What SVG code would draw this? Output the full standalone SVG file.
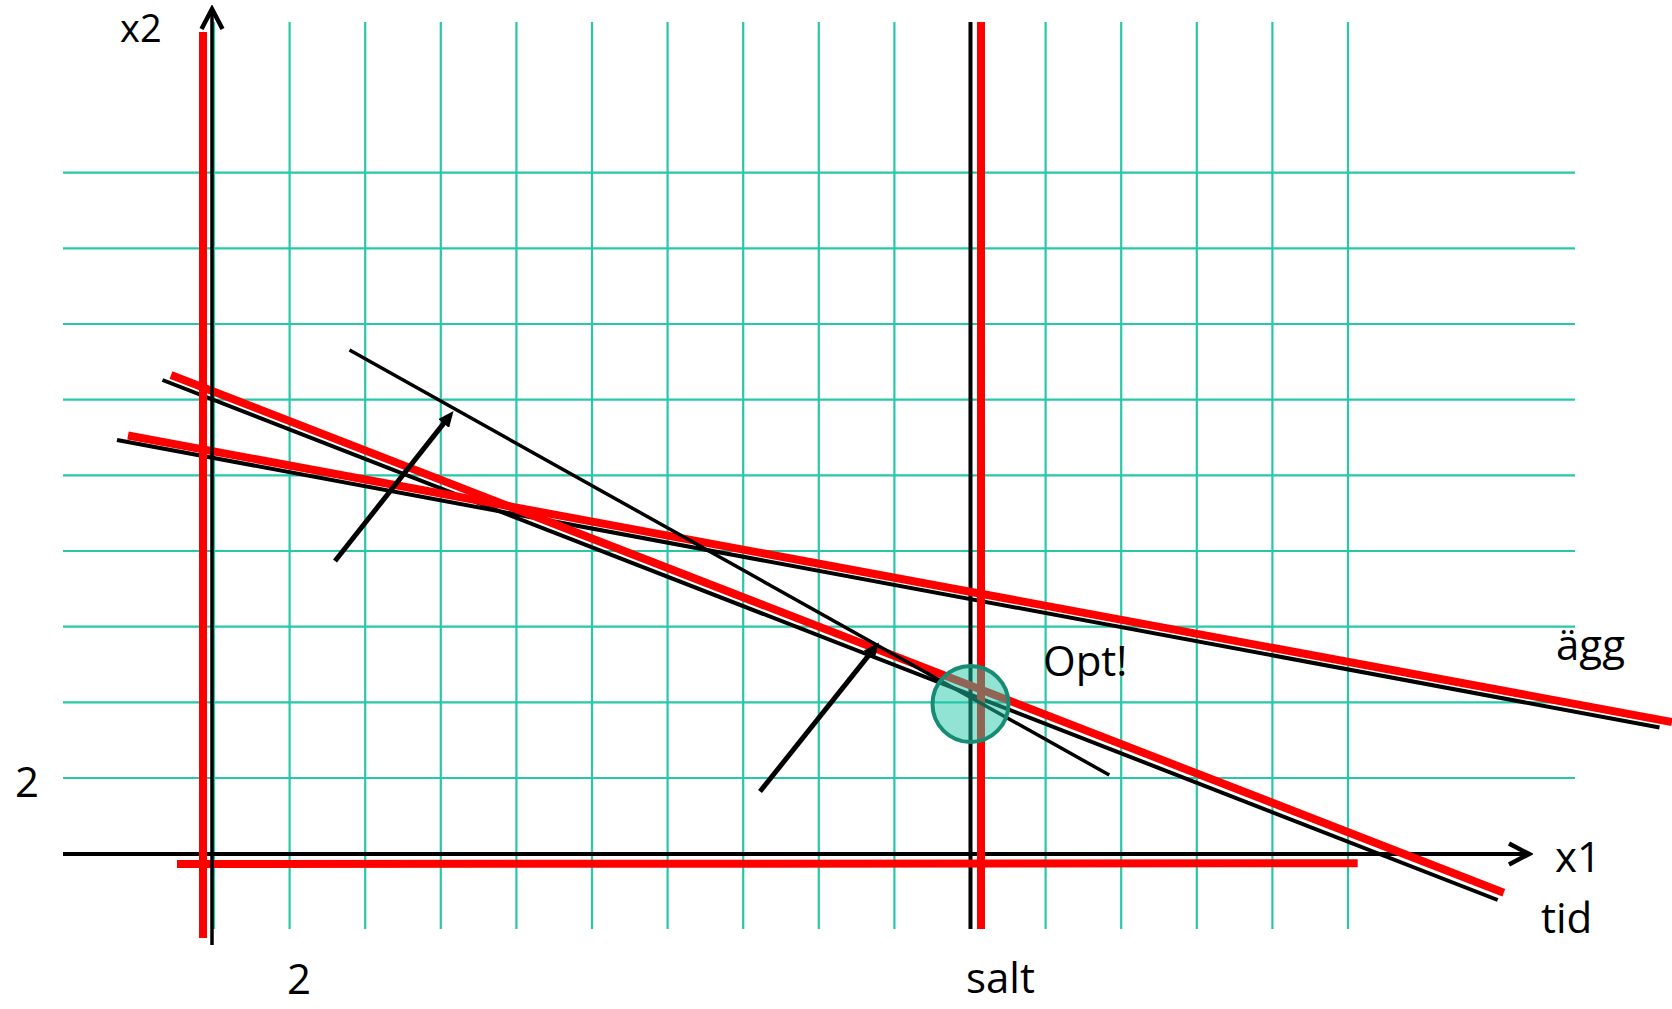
<svg xmlns="http://www.w3.org/2000/svg" width="1672" height="1009" viewBox="0 0 1672 1009">
<style>
.grid line{stroke:#27C8A8;stroke-width:2.2}
.red{stroke:#FF0000;stroke-width:8;fill:none}
.blk{stroke:#000;stroke-width:4;fill:none}
.thin{stroke:#000;stroke-width:3.5;fill:none}
.arr{stroke:#000;stroke-width:5;fill:none;marker-end:url(#head)}
.lbl{font-family:"Open Sans","Liberation Sans",sans-serif;font-size:42px;fill:#000}
</style>
<defs>
<marker id="head" viewBox="0 0 16 14" refX="4" refY="7" markerWidth="16" markerHeight="14" markerUnits="userSpaceOnUse" orient="auto">
<path d="M0,0 L16,7 L0,14 z" fill="#000"/>
</marker>
<marker id="open" viewBox="-24 -14 28 28" refX="0" refY="0" markerWidth="28" markerHeight="28" markerUnits="userSpaceOnUse" orient="auto">
<path d="M-20,-10.5 L0,0 L-20,10.5" fill="none" stroke="#000" stroke-width="4.5"/>
</marker>
</defs>
<rect width="1672" height="1009" fill="#fff"/>
<g id="grid" class="grid">
<line x1="214" y1="22" x2="214" y2="929"/>
<line x1="289.6" y1="22" x2="289.6" y2="929"/>
<line x1="365.2" y1="22" x2="365.2" y2="929"/>
<line x1="440.8" y1="22" x2="440.8" y2="929"/>
<line x1="516.4" y1="22" x2="516.4" y2="929"/>
<line x1="592" y1="22" x2="592" y2="929"/>
<line x1="667.6" y1="22" x2="667.6" y2="929"/>
<line x1="743.2" y1="22" x2="743.2" y2="929"/>
<line x1="818.8" y1="22" x2="818.8" y2="929"/>
<line x1="894.4" y1="22" x2="894.4" y2="929"/>
<line x1="970" y1="22" x2="970" y2="929"/>
<line x1="1045.6" y1="22" x2="1045.6" y2="929"/>
<line x1="1121.2" y1="22" x2="1121.2" y2="929"/>
<line x1="1196.8" y1="22" x2="1196.8" y2="929"/>
<line x1="1272.4" y1="22" x2="1272.4" y2="929"/>
<line x1="1348" y1="22" x2="1348" y2="929"/>
<line x1="63" y1="778" x2="1575" y2="778"/>
<line x1="63" y1="702.4" x2="1575" y2="702.4"/>
<line x1="63" y1="626.7" x2="1575" y2="626.7"/>
<line x1="63" y1="551" x2="1575" y2="551"/>
<line x1="63" y1="475.4" x2="1575" y2="475.4"/>
<line x1="63" y1="399.7" x2="1575" y2="399.7"/>
<line x1="63" y1="324" x2="1575" y2="324"/>
<line x1="63" y1="248.4" x2="1575" y2="248.4"/>
<line x1="63" y1="172.7" x2="1575" y2="172.7"/>
</g>
<g id="connectors">
<line id="x-axis" x1="63" y1="854" x2="1529" y2="854" stroke="#000" stroke-width="4" marker-end="url(#open)"/>
<line id="tid-black" class="blk" x1="162.5" y1="380" x2="1497.7" y2="900"/>
<line id="agg-black" class="blk" x1="117" y1="440" x2="1659.5" y2="727.5"/>
<line id="salt-black" class="blk" x1="970.5" y1="22" x2="970.5" y2="929"/>
<line id="x1-red" class="red" x1="203" y1="32" x2="203" y2="938"/>
<line id="x2-red" class="red" x1="177" y1="864" x2="1357.7" y2="863.3"/>
<line id="salt-red" class="red" x1="981" y1="22" x2="981" y2="929"/>
<line id="tid-red" class="red" x1="171" y1="375" x2="1503.8" y2="892.7"/>
<line id="agg-red" class="red" x1="128" y1="435.5" x2="1672" y2="722"/>
<line id="y-axis" x1="212" y1="945" x2="212" y2="9" stroke="#000" stroke-width="3.5" marker-end="url(#open)"/>
<line id="objective" class="thin" x1="349.5" y1="350" x2="1109.3" y2="775"/>
<line id="arrow1" class="arr" x1="335" y1="561" x2="446.1" y2="420.4"/>
<line id="arrow2" class="arr" x1="760" y1="791.5" x2="871.5" y2="651.9"/>
</g>
<g id="opt-point">
<circle cx="970.5" cy="704" r="38" fill="rgb(35,201,169)" fill-opacity="0.5" stroke="#168C74" stroke-width="4"/>
</g>
<g id="labels">
<text class="lbl" x="120" y="42" style="font-size:38px">x2</text>
<text class="lbl" x="15" y="797">2</text>
<text class="lbl" x="287" y="994">2</text>
<text class="lbl" x="966" y="993">salt</text>
<text class="lbl" x="1043" y="676">Opt!</text>
<text class="lbl" x="1556" y="660">ägg</text>
<text class="lbl" x="1555" y="872">x1</text>
<text class="lbl" x="1541" y="933">tid</text>
</g>
</svg>
